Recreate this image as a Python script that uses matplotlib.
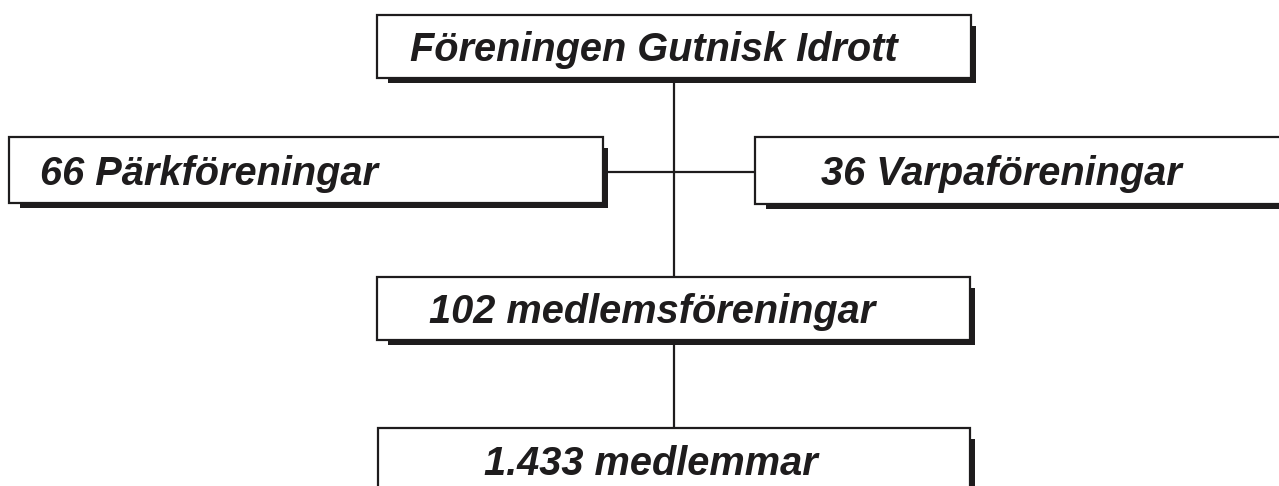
import matplotlib.pyplot as plt
from matplotlib.patches import Rectangle

# org chart labels
labels = ['Föreningen Gutnisk Idrott', '66 Pärkföreningar', '36 Varpaföreningar',
          '102 medlemsföreningar', '1.433 medlemmar']

# box layout in pixels: x0, y0, x1, y1 and text start / baseline
boxes = [(377, 15, 971, 78), (9, 137, 603, 203), (755, 137, 1290, 204),
         (377, 277, 970, 340), (378, 428, 970, 495)]
text_pos = [(410, 61), (40, 185), (821, 185), (429, 323), (484, 475)]

ink = '#1e1c1d'
W, H = 1279, 486

fig = plt.figure(figsize=(W / 100, H / 100), dpi=100)
ax = fig.add_axes([0, 0, 1, 1])
ax.set_xlim(0, W)
ax.set_ylim(H, 0)
ax.axis('off')

# connectors
ax.plot([674, 674], [78, 277], color=ink, lw=1.6, zorder=1)
ax.plot([674, 674], [340, 428], color=ink, lw=1.6, zorder=1)
ax.plot([603, 755], [172, 172], color=ink, lw=1.6, zorder=1)

for (x0, y0, x1, y1), lab, (tx, ty) in zip(boxes, labels, text_pos):
    # drop shadow
    ax.add_patch(Rectangle((x0 + 11, y0 + 11), x1 - x0 - 6, y1 - y0 - 6,
                           facecolor=ink, edgecolor='none', zorder=2))
    ax.add_patch(Rectangle((x0, y0), x1 - x0, y1 - y0, facecolor='white',
                           edgecolor=ink, lw=1.6, zorder=3))
    ax.text(tx, ty, lab, fontsize=28.6, fontweight='bold', fontstyle='italic',
            family='Liberation Sans', color=ink, ha='left', va='baseline',
            zorder=4)

fig.savefig('out.png', dpi=100)
